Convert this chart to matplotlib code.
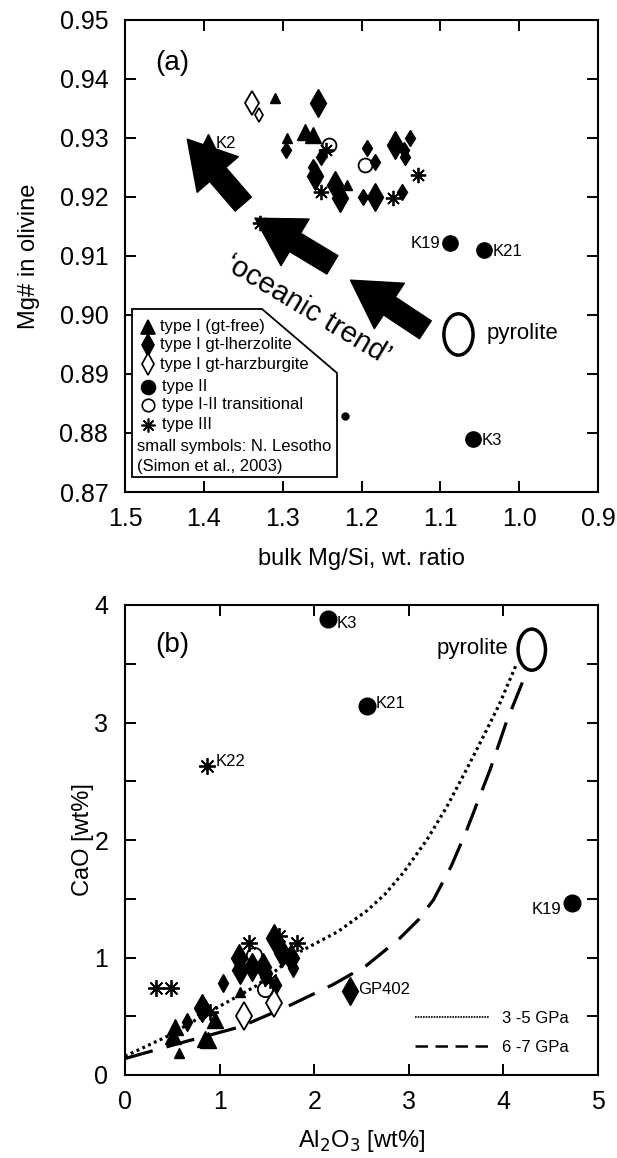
import matplotlib
matplotlib.use("Agg")
import matplotlib.pyplot as plt
from matplotlib.patches import Ellipse, Polygon
from matplotlib.lines import Line2D

plt.rcParams['font.family'] = ['Liberation Sans', 'DejaVu Sans']

# ---------------- Panel (a) data: bulk Mg/Si vs Mg# in olivine ----------------
a_tri_big_x = [1.395, 1.272, 1.261]
a_tri_big_y = [0.9293, 0.9310, 0.9305]
a_tri_small_x = [1.310, 1.294, 1.218]
a_tri_small_y = [0.9368, 0.9300, 0.9220]
a_dia_big_x = [1.255, 1.259, 1.233, 1.227, 1.157, 1.183]
a_dia_big_y = [0.9359, 0.9235, 0.9220, 0.9198, 0.9288, 0.9200]
a_dia_small_x = [1.296, 1.252, 1.261, 1.193, 1.183, 1.138, 1.146, 1.145, 1.198, 1.149]
a_dia_small_y = [0.9280, 0.9268, 0.9250, 0.9283, 0.9260, 0.9300, 0.9280, 0.9268, 0.9200, 0.9208]
a_odia_big_x = [1.339]
a_odia_big_y = [0.9359]
a_odia_small_x = [1.330]
a_odia_small_y = [0.9339]
a_ocirc_x = [1.241, 1.195]
a_ocirc_y = [0.9288, 0.9254]
a_ast_x = [1.245, 1.252, 1.128, 1.160, 1.329]
a_ast_y = [0.9280, 0.9208, 0.9237, 0.9198, 0.9156]
a_circ_x = [1.088, 1.044, 1.058]
a_circ_y = [0.9122, 0.9110, 0.8790]
a_circ_labels = ['K19', 'K21', 'K3']
a_circ_small_x = [1.221]
a_circ_small_y = [0.8829]
a_pyrolite = (1.077, 0.8967)
# oceanic-trend arrows: (tail, tip)
a_arrow_tail_x = [1.350, 1.237, 1.119]
a_arrow_tail_y = [0.9188, 0.9085, 0.8975]
a_arrow_tip_x = [1.421, 1.335, 1.214]
a_arrow_tip_y = [0.9298, 0.9164, 0.9059]

legend_a_labels = ['type I (gt-free)', 'type I gt-lherzolite', 'type I gt-harzburgite',
                   'type II', 'type I-II transitional', 'type III']

# ---------------- Panel (b) data: Al2O3 vs CaO ----------------
b_tri_big_x = [0.53, 0.51, 0.85, 0.95, 0.85, 0.88]
b_tri_big_y = [0.41, 0.33, 0.31, 0.47, 0.58, 0.30]
b_tri_small_x = [0.57, 1.22]
b_tri_small_y = [0.19, 0.71]
b_dia_big_x = [0.81, 1.22, 1.34, 1.46, 1.57, 1.66, 1.75, 1.20, 2.38]
b_dia_big_y = [0.57, 0.89, 0.92, 0.92, 1.17, 1.04, 1.00, 1.00, 0.715]
b_dia_small_x = [0.66, 1.04, 1.50, 1.78, 1.60, 1.48]
b_dia_small_y = [0.45, 0.78, 0.87, 0.91, 0.77, 0.83]
b_odia_x = [1.26, 1.57]
b_odia_y = [0.50, 0.61]
b_ocirc_x = [1.36, 1.48]
b_ocirc_y = [1.02, 0.73]
b_ast_x = [0.33, 0.49, 1.31, 1.63, 1.82, 1.53, 0.90, 0.87]
b_ast_y = [0.74, 0.74, 1.12, 1.18, 1.12, 0.81, 0.54, 2.63]
b_circ_x = [2.15, 2.56, 4.72]
b_circ_y = [3.88, 3.14, 1.46]
b_circ_labels = ['K3', 'K21', 'K19']
b_pyrolite = (4.30, 3.62)
# trend curves
b_dot_x = [0.00, 0.45, 0.90, 1.39, 1.85, 2.25, 2.56, 2.75, 2.95, 3.19, 3.40, 3.61, 3.80, 3.96, 4.14]
b_dot_y = [0.16, 0.33, 0.54, 0.76, 1.05, 1.22, 1.40, 1.54, 1.73, 2.00, 2.28, 2.60, 2.90, 3.16, 3.50]
b_dash_x = [0.00, 0.62, 1.22, 1.71, 2.20, 2.55, 2.90, 3.10, 3.26, 3.45, 3.61, 3.86, 4.03, 4.21]
b_dash_y = [0.14, 0.28, 0.41, 0.58, 0.77, 0.93, 1.16, 1.32, 1.49, 1.78, 2.08, 2.60, 3.00, 3.36]
b_curve_labels = ['3 -5 GPa', '6 -7 GPa']

# ---------------- Figure ----------------
fig = plt.figure(figsize=(6.17, 11.58), dpi=100)
W, H = 617, 1158
axa = fig.add_axes([125 / W, 1 - 492 / H, 473 / W, 472 / H])
axb = fig.add_axes([125 / W, 1 - 1075 / H, 473 / W, 470 / H])

TICK_FS = 18
LAB_FS = 17
for ax in (axa, axb):
    for s in ax.spines.values():
        s.set_linewidth(1.5)
    ax.tick_params(which='both', direction='in', length=8, width=1.4,
                   top=True, right=True, labelsize=TICK_FS)
    ax.tick_params(axis='x', pad=11)
    ax.tick_params(axis='y', pad=12)

ms_big, ms_small = 11, 7
mk = dict(linestyle='none', color='black')
ast_kw = dict(linestyle='none', marker=(8, 2, 0), color='black', mew=1.3)

# ---- panel (a)
axa.plot(a_tri_big_x, a_tri_big_y, marker='^', ms=ms_big, **mk)
axa.plot(a_tri_small_x, a_tri_small_y, marker='^', ms=ms_small, **mk)
axa.plot(a_dia_big_x, a_dia_big_y, marker='d', ms=ms_big + 3, **mk)
axa.plot(a_dia_small_x, a_dia_small_y, marker='d', ms=ms_small + 1, **mk)
axa.plot(a_odia_big_x, a_odia_big_y, marker='d', ms=ms_big + 1, mfc='white', mew=1.3, **mk)
axa.plot(a_odia_small_x, a_odia_small_y, marker='d', ms=ms_small, mfc='white', mew=1.2, **mk)
axa.plot(a_ocirc_x, a_ocirc_y, marker='o', ms=10, mfc='none', mew=1.3, **mk)
axa.plot(a_ast_x, a_ast_y, ms=11, **ast_kw)
axa.plot(a_circ_x, a_circ_y, marker='o', ms=11, **mk)
axa.plot(a_circ_small_x, a_circ_small_y, marker='o', ms=5, **mk)

axa.annotate('K2', (a_tri_big_x[0], a_tri_big_y[0]), xytext=(6, -1), textcoords='offset points',
             fontsize=12, va='center', ha='left')
for x, y, lab in zip(a_circ_x, a_circ_y, a_circ_labels):
    if lab == 'K19':
        axa.annotate(lab, (x, y), xytext=(-7, 0), textcoords='offset points',
                     fontsize=12, va='center', ha='right')
    else:
        axa.annotate(lab, (x, y), xytext=(6, -1), textcoords='offset points',
                     fontsize=12, va='center', ha='left')

axa.add_patch(Ellipse(a_pyrolite, 0.037, 0.0070, fill=False, lw=2.5, ec='black'))
axa.annotate('pyrolite', a_pyrolite, xytext=(20, 1), textcoords='offset points',
             fontsize=16, va='center', ha='left')

for tx, ty, hx, hy in zip(a_arrow_tail_x, a_arrow_tail_y, a_arrow_tip_x, a_arrow_tip_y):
    axa.annotate('', xy=(hx, hy), xytext=(tx, ty),
                 arrowprops=dict(arrowstyle='simple,head_length=1.2,head_width=1.4,tail_width=0.55',
                                 mutation_scale=28, color='black', shrinkA=0, shrinkB=0))

axa.text(1.268, 0.9010, '\u2018oceanic trend\u2019', rotation=-31, fontsize=21,
         ha='center', va='center', rotation_mode='anchor')
axa.text(1.440, 0.9427, '(a)', fontsize=20, ha='center', va='center')

axa.set_xlim(1.5, 0.9)
axa.set_ylim(0.87, 0.95)
axa.set_xticks([1.5, 1.4, 1.3, 1.2, 1.1, 1.0, 0.9])
axa.set_xticklabels(['1.5', '1.4', '1.3', '1.2', '1.1', '1.0', '0.9'])
yt = [0.87, 0.88, 0.89, 0.90, 0.91, 0.92, 0.93, 0.94, 0.95]
axa.set_yticks(yt)
axa.set_yticklabels(['%.2f' % v for v in yt])
axa.set_xlabel('bulk Mg/Si, wt. ratio', fontsize=LAB_FS, labelpad=12)
axa.set_ylabel('Mg# in olivine', fontsize=LAB_FS, labelpad=14)

# legend box with a cut corner (axes fraction)
def fx(px):
    return (px - 125) / 473
def fy(py):
    return (492 - py) / 472

poly = Polygon([(fx(132), fy(309)), (fx(262), fy(309)), (fx(337), fy(373)),
                (fx(337), fy(477)), (fx(132), fy(477))], closed=True,
               transform=axa.transAxes, fc='white', ec='black', lw=1.3, zorder=5)
axa.add_patch(poly)
leg_markers = [dict(marker='^', ms=10, mfc='black'), dict(marker='d', ms=11, mfc='black'),
               dict(marker='d', ms=11, mfc='white'), dict(marker='o', ms=10, mfc='black'),
               dict(marker='o', ms=9, mfc='white'), dict(marker=(8, 2, 0), ms=10, mfc='black')]
leg_rows = [327, 345, 364, 387, 405, 425]
leg_text_x = [160, 160, 160, 162, 162, 162]
for lab, mkd, py, tx in zip(legend_a_labels, leg_markers, leg_rows, leg_text_x):
    axa.plot([fx(148)], [fy(py)], transform=axa.transAxes, color='black', mec='black',
             mew=1.2, linestyle='none', zorder=6, **mkd)
    axa.text(fx(tx), fy(py), lab, transform=axa.transAxes, fontsize=12,
             ha='left', va='center', zorder=6)
axa.text(fx(137), fy(447), 'small symbols: N. Lesotho', transform=axa.transAxes,
         fontsize=12, ha='left', va='center', zorder=6)
axa.text(fx(137), fy(466), '(Simon et al., 2003)', transform=axa.transAxes,
         fontsize=12, ha='left', va='center', zorder=6)

# ---- panel (b)
axb.plot(b_dot_x, b_dot_y, color='black', lw=2.3, linestyle=(0, (0.9, 1.1)))
axb.plot(b_dash_x, b_dash_y, color='black', lw=2.3, linestyle=(0, (9, 4.5)))

axb.plot(b_tri_big_x, b_tri_big_y, marker='^', ms=ms_big + 1, **mk)
axb.plot(b_tri_small_x, b_tri_small_y, marker='^', ms=ms_small, **mk)
axb.plot(b_dia_big_x, b_dia_big_y, marker='d', ms=ms_big + 3, **mk)
axb.plot(b_dia_small_x, b_dia_small_y, marker='d', ms=ms_small + 2, **mk)
axb.plot(b_odia_x, b_odia_y, marker='d', ms=ms_big + 3, mfc='white', mew=1.3, **mk)
axb.plot(b_ocirc_x, b_ocirc_y, marker='o', ms=11, mfc='none', mew=1.3, **mk)
axb.plot(b_ast_x, b_ast_y, ms=12, **ast_kw)
axb.plot(b_circ_x, b_circ_y, marker='o', ms=12, **mk)

for x, y, lab in zip(b_circ_x, b_circ_y, b_circ_labels):
    if lab == 'K19':
        axb.annotate(lab, (x, y), xytext=(-7, -4), textcoords='offset points',
                     fontsize=12, va='center', ha='right')
    else:
        axb.annotate(lab, (x, y), xytext=(6, -3 if lab == 'K3' else 2), textcoords='offset points',
                     fontsize=12, va='center', ha='left')
axb.annotate('K22', (b_ast_x[-1], b_ast_y[-1]), xytext=(6, 3), textcoords='offset points',
             fontsize=12, va='center', ha='left')
axb.annotate('GP402', (b_dia_big_x[-1], b_dia_big_y[-1]), xytext=(6, 1), textcoords='offset points',
             fontsize=12, va='center', ha='left')

axb.add_patch(Ellipse(b_pyrolite, 0.29, 0.35, fill=False, lw=2.5, ec='black', zorder=4))
axb.annotate('pyrolite', b_pyrolite, xytext=(-17, 1), textcoords='offset points',
             fontsize=16, va='center', ha='right')
axb.text(0.50, 3.66, '(b)', fontsize=20, ha='center', va='center')

axb.set_xlim(0, 5)
axb.set_ylim(0, 4)
axb.set_xticks([0, 1, 2, 3, 4, 5])
axb.set_yticks([0, 1, 2, 3, 4])
axb.set_yticks([0.5, 1.5, 2.5, 3.5], minor=True)
axb.set_xlabel('Al$_2$O$_3$ [wt%]', fontsize=LAB_FS, labelpad=10)
axb.set_ylabel('CaO [wt%]', fontsize=LAB_FS, labelpad=0)

h1 = Line2D([], [], color='black', lw=1.2, linestyle=(0, (1, 0.6)))
h2 = Line2D([], [], color='black', lw=1.8, linestyle=(0, (5, 3)))
axb.legend([h1, h2], b_curve_labels, loc='lower right', frameon=False, fontsize=12,
           handlelength=4.4, handletextpad=0.8, labelspacing=0.85,
           bbox_to_anchor=(0.97, 0.01))

fig.savefig('out.png', dpi=100)
